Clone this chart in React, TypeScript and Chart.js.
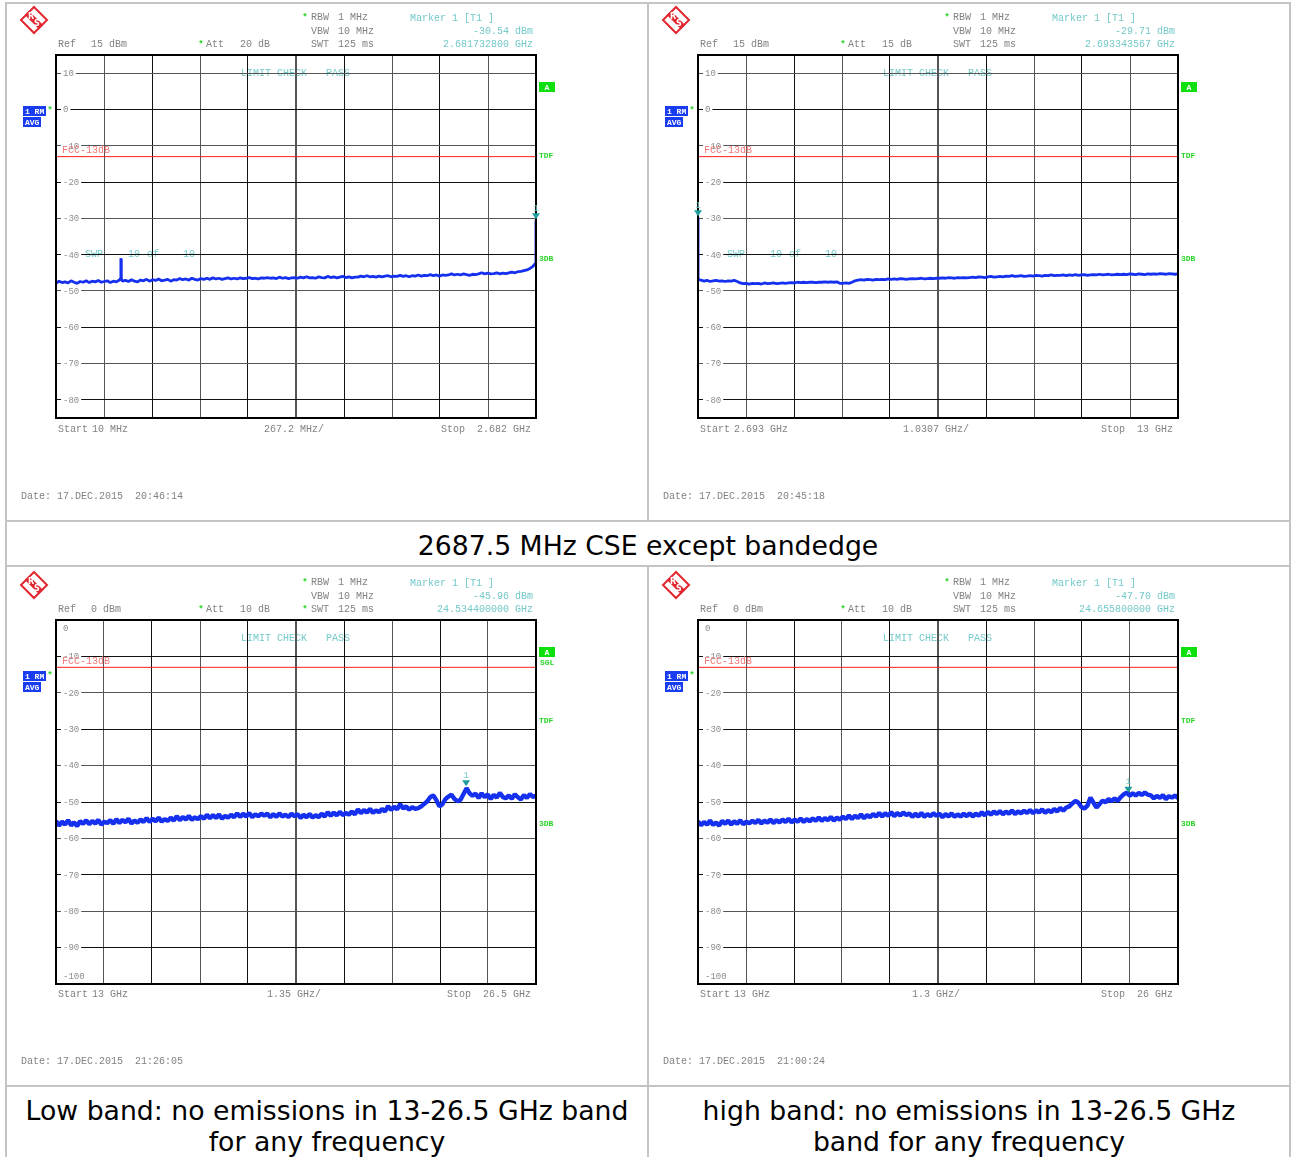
import React, { useEffect, useRef } from 'react';
import { Chart, registerables } from 'chart.js';

Chart.register(...registerables);

// ---------------- data ----------------
// sweep ranges (GHz) of the four analyzer screens: top-left, top-right, bottom-left, bottom-right
const START_GHZ = [0.01, 2.693, 13, 13];
const STOP_GHZ = [2.682, 13, 26.5, 26];

// trace levels (dBm), evenly spaced sweep points
const TL_LEVELS = [
  -47.9, -47.3, -47.7, -47.5, -47.8, -47.2, -47.6, -47.9, -47.4, -47.6,
  -47.2, -47.7, -47.3, -47.5, -47.1, -47.6, -47.4, -47.2, -47.7, -47.3,
  -47.5, -47.0, -47.3, -47.1, -47.4, -46.9, -47.3, -47.5, -47.0, -47.2,
  -46.8, -47.3, -46.9, -47.1, -46.7, -47.2, -47.0, -46.8, -47.3, -46.9,
  -47.0, -46.6, -46.9, -46.7, -47.0, -46.5, -46.8, -47.0, -46.6, -46.8,
  -46.5, -46.8, -46.4, -46.7, -46.5, -46.8, -46.6, -46.4, -46.7, -46.5,
  -46.7, -46.4, -46.6, -46.5, -46.3, -46.6, -46.5, -46.7, -46.4, -46.5,
  -46.3, -46.5, -46.4, -46.6, -46.2, -46.5, -46.3, -46.6, -46.4, -46.3,
  -46.5, -46.2, -46.4, -46.1, -46.4, -46.3, -46.5, -46.1, -46.3, -46.4,
  -46.0, -46.3, -46.1, -46.4, -46.2, -46.0, -46.3, -46.1, -46.4, -46.2,
  -46.2, -45.9, -46.1, -45.8, -46.1, -46.0, -46.2, -45.9, -46.1, -45.9,
  -45.8, -46.1, -45.9, -46.0, -45.7, -46.0, -45.8, -46.1, -45.8, -45.9,
  -45.6, -45.9, -45.7, -45.8, -45.5, -45.8, -45.6, -45.9, -45.6, -45.7,
  -45.6, -45.3, -45.6, -45.4, -45.6, -45.3, -45.5, -45.7, -45.4, -45.5,
  -45.3, -45.0, -45.3, -45.1, -45.3, -45.2, -45.0, -45.3, -45.1, -45.2,
  -45.0, -44.8, -45.0, -44.7, -44.6, -44.4, -44.2, -43.8, -43.2, -42.4,
];
const TL_EXTRA_FREQ = [0.37, 0.3712, 0.3724, 0.3736, 2.6812, 2.68173];
const TL_EXTRA_LEVEL = [-46.5, -41.0, -41.3, -46.6, -42.3, -30.54];

const TR_LEVELS = [
  -29.71, -47.0, -47.3, -47.1, -47.4, -47.2, -47.1, -47.3, -47.2, -47.4,
  -47.2, -47.3, -47.1, -47.4, -47.8, -48.0, -47.9, -48.1, -47.9, -48.0,
  -47.9, -48.1, -47.8, -48.0, -47.9, -47.8, -48.0, -47.9, -47.8, -47.9,
  -47.8, -47.7, -47.8, -47.6, -47.7, -47.6, -47.7, -47.6, -47.6, -47.7,
  -47.6, -47.6, -47.5, -47.6, -47.5, -47.6, -47.5, -47.9, -47.9, -47.8,
  -47.9, -47.6, -47.2, -47.0, -46.9, -47.0, -46.8, -46.9, -47.0, -46.8,
  -46.9, -46.8, -46.9, -46.7, -46.8, -46.7, -46.8, -46.6, -46.7, -46.8,
  -46.7, -46.6, -46.7, -46.6, -46.5, -46.7, -46.6, -46.5, -46.6, -46.5,
  -46.5, -46.4, -46.5, -46.3, -46.4, -46.5, -46.3, -46.4, -46.3, -46.4,
  -46.3, -46.2, -46.3, -46.1, -46.2, -46.3, -46.1, -46.0, -46.2, -46.1,
  -46.0, -46.1, -45.9, -46.0, -45.8, -46.0, -45.9, -45.8, -46.0, -45.9,
  -45.8, -45.9, -45.7, -45.8, -45.9, -45.7, -45.8, -45.6, -45.8, -45.7,
  -45.7, -45.6, -45.8, -45.6, -45.7, -45.5, -45.7, -45.6, -45.5, -45.7,
  -45.6, -45.5, -45.6, -45.4, -45.6, -45.5, -45.4, -45.6, -45.5, -45.4,
  -45.5, -45.4, -45.5, -45.3, -45.4, -45.5, -45.3, -45.4, -45.5, -45.3,
  -45.4, -45.3, -45.4, -45.2, -45.3, -45.4, -45.2, -45.3, -45.4, -45.3,
];
const TR_EXTRA_FREQ = [2.6942];
const TR_EXTRA_LEVEL = [-46.9];

const BL_LEVELS = [
  -55.2, -56.5, -55.4, -56.2, -55.0, -56.4, -55.6, -56.6, -55.3, -56.0,
  -55.0, -56.1, -55.2, -55.9, -54.9, -56.2, -55.4, -55.8, -55.0, -56.0,
  -54.7, -55.8, -54.9, -55.6, -54.6, -55.9, -55.1, -55.7, -54.8, -55.5,
  -54.4, -55.5, -54.6, -55.3, -54.3, -55.4, -54.7, -55.2, -54.3, -55.1,
  -53.9, -55.0, -54.1, -54.8, -53.8, -54.9, -54.2, -54.7, -53.9, -54.6,
  -53.5, -54.5, -53.6, -54.4, -53.4, -54.6, -53.8, -54.3, -53.5, -54.2,
  -53.1, -54.1, -53.2, -54.0, -53.0, -54.2, -53.4, -53.9, -53.2, -53.8,
  -53.2, -54.2, -53.3, -54.1, -53.1, -54.0, -53.5, -54.1, -53.2, -53.9,
  -53.3, -54.4, -53.5, -54.2, -53.3, -54.3, -53.6, -54.2, -53.2, -54.0,
  -52.8, -53.8, -52.9, -53.7, -52.7, -53.6, -53.0, -53.5, -52.6, -53.4,
  -52.0, -53.1, -52.2, -52.9, -51.9, -53.0, -52.3, -52.8, -51.9, -52.6,
  -51.1, -52.2, -51.3, -52.0, -50.6, -51.8, -51.2, -52.1, -51.4, -51.9,
  -51.7, -51.2, -50.5, -49.8, -48.6, -48.2, -49.5, -51.2, -50.6, -49.2,
  -48.5, -48.0, -49.2, -49.8, -49.4, -47.8, -46.2, -47.6, -48.3, -47.7,
  -48.9, -47.6, -48.7, -47.9, -49.2, -48.0, -48.8, -47.5, -48.6, -49.0,
  -48.2, -49.1, -47.9, -48.7, -49.3, -48.1, -48.9, -47.8, -48.6, -48.3,
];

const BR_LEVELS = [
  -55.3, -56.4, -55.5, -56.2, -55.1, -56.3, -55.6, -56.5, -55.2, -56.0,
  -55.1, -56.2, -55.3, -56.0, -55.0, -56.1, -55.4, -55.9, -55.1, -55.8,
  -54.9, -55.9, -55.1, -55.7, -54.8, -55.8, -55.0, -55.6, -54.8, -55.5,
  -54.6, -55.6, -54.8, -55.4, -54.5, -55.5, -54.7, -55.3, -54.5, -55.2,
  -54.2, -55.2, -54.4, -55.0, -54.1, -55.1, -54.3, -54.9, -54.0, -54.7,
  -53.7, -54.7, -53.8, -54.4, -53.4, -54.5, -53.6, -54.2, -53.3, -54.0,
  -53.0, -54.0, -53.1, -53.8, -52.8, -53.9, -53.0, -53.7, -52.9, -53.6,
  -53.1, -54.1, -53.2, -54.0, -53.0, -54.1, -53.3, -53.9, -53.1, -53.8,
  -53.2, -54.2, -53.3, -54.0, -53.1, -54.1, -53.4, -54.0, -53.2, -53.9,
  -53.1, -54.0, -53.2, -53.8, -52.8, -53.7, -52.7, -53.5, -52.6, -53.3,
  -52.5, -53.4, -52.6, -53.2, -52.3, -53.3, -52.6, -53.1, -52.4, -53.0,
  -52.2, -53.1, -52.3, -52.9, -52.0, -53.0, -52.2, -52.8, -51.9, -52.6,
  -51.6, -52.4, -51.5, -51.2, -50.4, -49.7, -50.2, -51.4, -51.8, -51.0,
  -48.8, -50.2, -51.5, -50.6, -49.6, -50.1, -49.2, -49.8, -49.0, -49.7,
  -48.7, -47.9, -47.4, -48.3, -47.6, -48.2, -47.5, -48.1, -47.4, -48.0,
  -48.2, -49.0, -48.3, -48.9, -48.1, -49.2, -48.4, -48.8, -48.2, -48.9,
];

const TRACE_LEVELS = [TL_LEVELS, TR_LEVELS, BL_LEVELS, BR_LEVELS];
const EXTRA_FREQ = [TL_EXTRA_FREQ, TR_EXTRA_FREQ, [], []];
const EXTRA_LEVEL = [TL_EXTRA_LEVEL, TR_EXTRA_LEVEL, [], []];

// marker 1
const MARKER_FREQ = [2.6817328, 2.693343567, 24.5344, 24.6558];
const MARKER_LEVEL = [-30.54, -29.71, -45.96, -47.7];

// limit line and axes
const FCC_LIMIT = -13;
const Y_MIN = [-85, -85, -100, -100];
const Y_MAX = [15, 15, 0, 0];
const Y_TICKS_TOP = [10, 0, -10, -20, -30, -40, -50, -60, -70, -80];
const Y_TICKS_BOTTOM = [0, -10, -20, -30, -40, -50, -60, -70, -80, -90, -100];
const Y_TICKS = [Y_TICKS_TOP, Y_TICKS_TOP, Y_TICKS_BOTTOM, Y_TICKS_BOTTOM];
const X_DIVISIONS = 10;

// texts
const REF_VAL = ['15 dBm', '15 dBm', '0 dBm', '0 dBm'];
const ATT_VAL = ['20 dB', '15 dB', '10 dB', '10 dB'];
const SWT_STAR = [false, false, true, false];
const SHOW_SWP = [true, true, false, false];
const SHOW_SGL = [false, false, true, false];
const MARKER_LEVEL_TXT = ['-30.54 dBm', '-29.71 dBm', '-45.96 dBm', '-47.70 dBm'];
const MARKER_FREQ_TXT = ['2.681732800 GHz', '2.693343567 GHz', '24.534400000 GHz', '24.655800000 GHz'];
const START_VAL = ['10 MHz', '2.693 GHz', '13 GHz', '13 GHz'];
const SPAN_TXT = ['267.2 MHz/', '1.0307 GHz/', '1.35 GHz/', '1.3 GHz/'];
const STOP_TXT = ['Stop  2.682 GHz', 'Stop  13 GHz', 'Stop  26.5 GHz', 'Stop  26 GHz'];
const DATE_TXT = [
  'Date: 17.DEC.2015  20:46:14',
  'Date: 17.DEC.2015  20:45:18',
  'Date: 17.DEC.2015  21:26:05',
  'Date: 17.DEC.2015  21:00:24',
];
const CAPTION_MID = '2687.5 MHz CSE except bandedge';
const CAPTION_LEFT = ['Low band: no emissions in 13-26.5 GHz band', 'for any frequency'];
const CAPTION_RIGHT = ['high band: no emissions in 13-26.5 GHz', 'band for any frequency'];

// ---------------- layout / style ----------------
const PANEL_X = [6, 648, 6, 648];
const PANEL_Y = [2, 2, 567, 567];
const CW = 640;
const CH = 517;
const MONO = '"Liberation Mono", "DejaVu Sans Mono", monospace';
const GRAY = '#828282';
const CYAN = '#74c9c9';
const GREEN = '#2bd42b';
const TRACE_BLUE = '#1530ee';
const BORDER = '#c4c4c4';

function buildPoints(i: number) {
  const lv = TRACE_LEVELS[i];
  const s = START_GHZ[i];
  const e = STOP_GHZ[i];
  const n = lv.length;
  const pts = lv.map((v, k) => ({ x: s + ((e - s) * k) / (n - 1), y: v }));
  EXTRA_FREQ[i].forEach((f, k) => pts.push({ x: f, y: EXTRA_LEVEL[i][k] }));
  pts.sort((a, b) => a.x - b.x);
  return pts;
}

function txt(ctx: CanvasRenderingContext2D, t: string, x: number, y: number, color: string, align: CanvasTextAlign = 'left', font = `10px ${MONO}`) {
  ctx.font = font;
  ctx.fillStyle = color;
  ctx.textAlign = align;
  ctx.textBaseline = 'middle';
  ctx.fillText(t, x, y);
}

function star(ctx: CanvasRenderingContext2D, x: number, y: number) {
  txt(ctx, '*', x, y + 1, GREEN, 'center', `bold 9px ${MONO}`);
}

function box(ctx: CanvasRenderingContext2D, t: string, x: number, y: number, w: number, h: number, bg: string) {
  ctx.fillStyle = bg;
  ctx.fillRect(x, y, w, h);
  txt(ctx, t, x + 2, y + h / 2 + 0.5, '#ffffff', 'left', `bold 8px ${MONO}`);
}

function drawLogo(ctx: CanvasRenderingContext2D, cx: number, cy: number) {
  const red = '#e3262e';
  ctx.save();
  ctx.strokeStyle = red;
  ctx.lineWidth = 2;
  ctx.beginPath();
  ctx.moveTo(cx, cy - 13);
  ctx.lineTo(cx + 13, cy);
  ctx.lineTo(cx, cy + 13);
  ctx.lineTo(cx - 13, cy);
  ctx.closePath();
  ctx.stroke();
  ctx.lineWidth = 6;
  ctx.beginPath();
  ctx.moveTo(cx - 7, cy - 7);
  ctx.lineTo(cx + 7, cy + 7);
  ctx.stroke();
  ctx.font = 'bold 8px "DejaVu Sans"';
  ctx.fillStyle = '#ffffff';
  ctx.textAlign = 'center';
  ctx.textBaseline = 'middle';
  ctx.fillText('R', cx - 3, cy - 3);
  ctx.fillText('S', cx + 3, cy + 4);
  ctx.restore();
}

function makePlugin(i: number) {
  return {
    id: 'rsScreen' + i,
    beforeDraw(chart: any) {
      const ctx: CanvasRenderingContext2D = chart.ctx;
      const a = chart.chartArea;
      ctx.save();
      ctx.fillStyle = '#ffffff';
      ctx.fillRect(0, 0, chart.width, chart.height);
      txt(ctx, 'LIMIT CHECK', 235, a.top + 18, CYAN);
      txt(ctx, 'PASS', 320, a.top + 18, CYAN);
      if (SHOW_SWP[i]) {
        txt(ctx, 'SWP', 79, 252, CYAN);
        txt(ctx, '10', 122, 252, CYAN);
        txt(ctx, 'of', 141, 252, CYAN);
        txt(ctx, '10', 177, 252, CYAN);
      }
      ctx.restore();
    },
    afterDraw(chart: any) {
      const ctx: CanvasRenderingContext2D = chart.ctx;
      const a = chart.chartArea;
      const xs = chart.scales.x;
      const ys = chart.scales.y;
      ctx.save();
      // frame
      ctx.strokeStyle = '#000';
      ctx.lineWidth = 2;
      ctx.strokeRect(a.left, a.top, a.right - a.left, a.bottom - a.top);
      // y tick labels inside the grid
      ctx.font = `9px ${MONO}`;
      for (const v of Y_TICKS[i]) {
        let y = ys.getPixelForValue(v);
        if (v === Y_MAX[i]) y += 8;
        if (v === Y_MIN[i]) y -= 8;
        const t = String(v);
        const w = ctx.measureText(t).width;
        ctx.fillStyle = '#ffffff';
        ctx.fillRect(a.left + 5, y - 4, w + 4, 8);
        txt(ctx, t, a.left + 7, y + 0.5, '#8c8c8c', 'left', `9px ${MONO}`);
      }
      // limit line label
      const yl = ys.getPixelForValue(FCC_LIMIT);
      txt(ctx, 'FCC-13dB', a.left + 6, yl - 6, '#f07878');
      // marker
      const mx = xs.getPixelForValue(MARKER_FREQ[i]);
      const my = ys.getPixelForValue(MARKER_LEVEL[i]);
      ctx.fillStyle = '#1f9c9c';
      ctx.beginPath();
      ctx.moveTo(mx - 4, my - 7);
      ctx.lineTo(mx + 4, my - 7);
      ctx.lineTo(mx, my - 1);
      ctx.closePath();
      ctx.fill();
      txt(ctx, '1', mx, my - 12, CYAN, 'center', `9px ${MONO}`);
      // header
      drawLogo(ctx, 28, 18);
      star(ctx, 299, 15);
      txt(ctx, 'RBW', 305, 15, GRAY);
      txt(ctx, '1 MHz', 332, 15, GRAY);
      txt(ctx, 'VBW', 305, 29, GRAY);
      txt(ctx, '10 MHz', 332, 29, GRAY);
      if (SWT_STAR[i]) star(ctx, 299, 42);
      txt(ctx, 'SWT', 305, 42, GRAY);
      txt(ctx, '125 ms', 332, 42, GRAY);
      txt(ctx, 'Ref', 52, 42, GRAY);
      txt(ctx, REF_VAL[i], 85, 42, GRAY);
      star(ctx, 195, 42);
      txt(ctx, 'Att', 200, 42, GRAY);
      txt(ctx, ATT_VAL[i], 234, 42, GRAY);
      txt(ctx, 'Marker 1 [T1 ]', 404, 16, CYAN);
      txt(ctx, MARKER_LEVEL_TXT[i], 527, 29, CYAN, 'right');
      txt(ctx, MARKER_FREQ_TXT[i], 527, 42, CYAN, 'right');
      // side annotations
      box(ctx, '1 RM', 17, 104, 23, 10, '#1a3cf0');
      box(ctx, 'AVG', 17, 115, 18, 10, '#1a3cf0');
      star(ctx, 44, 108);
      ctx.fillStyle = '#0ee00e';
      ctx.fillRect(533, 80, 16, 10);
      txt(ctx, 'A', 541, 85.5, '#ffffff', 'center', `bold 8px ${MONO}`);
      if (SHOW_SGL[i]) txt(ctx, 'SGL', 534, 96, GREEN, 'left', `bold 8px ${MONO}`);
      txt(ctx, 'TDF', 533, 154, GREEN, 'left', `bold 8px ${MONO}`);
      txt(ctx, '3DB', 533, 257, GREEN, 'left', `bold 8px ${MONO}`);
      // footer
      txt(ctx, 'Start', 52, 427, GRAY);
      txt(ctx, START_VAL[i], 86, 427, GRAY);
      txt(ctx, SPAN_TXT[i], 288, 427, GRAY, 'center');
      txt(ctx, STOP_TXT[i], 525, 427, GRAY, 'right');
      txt(ctx, DATE_TXT[i], 15, 494, GRAY);
      ctx.restore();
    },
  };
}

function Panel({ idx }: { idx: number }) {
  const ref = useRef<HTMLCanvasElement>(null);
  useEffect(() => {
    const s = START_GHZ[idx];
    const e = STOP_GHZ[idx];
    const xTicks = Array.from({ length: X_DIVISIONS + 1 }, (_, k) => s + ((e - s) * k) / X_DIVISIONS);
    const yTicks = Y_TICKS[idx];
    const bottomPad = idx < 2 ? 101 : 100;
    const chart = new Chart(ref.current as HTMLCanvasElement, {
      type: 'line',
      data: {
        datasets: [
          {
            data: buildPoints(idx),
            borderColor: TRACE_BLUE,
            borderWidth: idx < 2 ? 2.8 : 4.4,
            borderJoinStyle: 'bevel',
            pointRadius: 0,
            tension: 0,
            fill: false,
          },
          {
            data: [
              { x: s, y: FCC_LIMIT },
              { x: e, y: FCC_LIMIT },
            ],
            borderColor: '#ff1e1e',
            borderWidth: 1,
            pointRadius: 0,
            fill: false,
          },
        ],
      } as any,
      options: {
        animation: false,
        responsive: false,
        devicePixelRatio: 1,
        events: [],
        layout: { padding: { left: 50, top: 53, right: CW - 530, bottom: bottomPad } },
        plugins: { legend: { display: false }, tooltip: { enabled: false } },
        scales: {
          x: {
            type: 'linear',
            min: s,
            max: e,
            afterBuildTicks: (sc: any) => {
              sc.ticks = xTicks.map((v) => ({ value: v }));
            },
            ticks: { display: false },
            border: { display: false },
            grid: {
              drawTicks: false,
              color: (c: any) => (c.index % 2 === 1 ? '#555555' : '#111111'),
              lineWidth: (c: any) => (c.index === 5 ? 2 : 1),
            },
          },
          y: {
            type: 'linear',
            min: Y_MIN[idx],
            max: Y_MAX[idx],
            afterBuildTicks: (sc: any) => {
              sc.ticks = yTicks.map((v) => ({ value: v }));
            },
            ticks: { display: false },
            border: { display: false },
            grid: {
              drawTicks: false,
              color: (c: any) => (c.index % 2 === 0 ? '#555555' : '#111111'),
              lineWidth: 1,
            },
          },
        },
      } as any,
      plugins: [makePlugin(idx)],
    });
    return () => chart.destroy();
  }, [idx]);
  return (
    <canvas
      ref={ref}
      width={CW}
      height={CH}
      style={{ position: 'absolute', left: PANEL_X[idx], top: PANEL_Y[idx], width: CW, height: CH }}
    />
  );
}

export default function App() {
  const line = (l: number, t: number, w: number, h: number) => (
    <div style={{ position: 'absolute', left: l, top: t, width: w, height: h, background: BORDER }} />
  );
  const capStyle: React.CSSProperties = {
    position: 'absolute',
    fontFamily: '"DejaVu Sans", Verdana, sans-serif',
    fontSize: '26.7px',
    lineHeight: '31px',
    color: '#000',
    textAlign: 'center',
    whiteSpace: 'nowrap',
  };
  return (
    <div
      style={{
        position: 'absolute',
        left: 0,
        top: 0,
        width: 1298,
        height: 1157,
        background: '#ffffff',
        overflow: 'hidden',
      }}
    >
      {[0, 1, 2, 3].map((k) => (
        <Panel key={k} idx={k} />
      ))}
      <div style={{ ...capStyle, left: 7, top: 530, width: 1282 }}>{CAPTION_MID}</div>
      <div style={{ ...capStyle, left: 7, top: 1095, width: 640 }}>
        {CAPTION_LEFT[0]}
        <br />
        {CAPTION_LEFT[1]}
      </div>
      <div style={{ ...capStyle, left: 649, top: 1095, width: 640 }}>
        {CAPTION_RIGHT[0]}
        <br />
        {CAPTION_RIGHT[1]}
      </div>
      {line(5, 2, 1286, 2)}
      {line(5, 2, 2, 1160)}
      {line(1289, 2, 2, 1160)}
      {line(647, 2, 2, 519)}
      {line(647, 566, 2, 600)}
      {line(5, 520, 1286, 2)}
      {line(5, 565, 1286, 2)}
      {line(5, 1085, 1286, 2)}
    </div>
  );
}
